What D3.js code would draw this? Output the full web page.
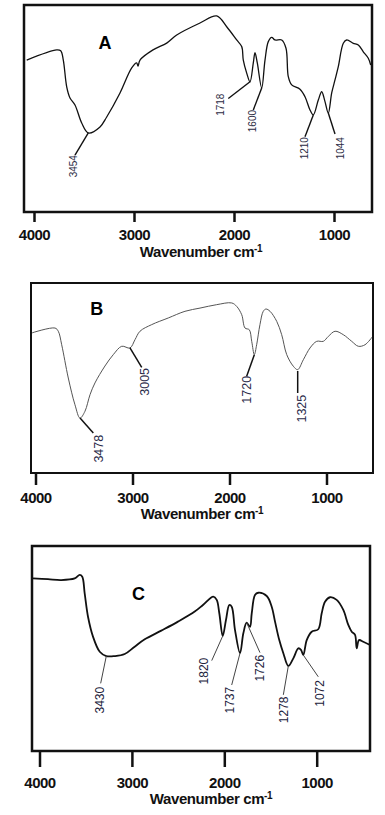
<!DOCTYPE html>
<html lang="en">
<head>
<meta charset="utf-8">
<title>FTIR spectra A, B, C</title>
<script src="https://d3js.org/d3.v7.min.js"></script>
<style>
  body { margin: 0; background: white; }
  svg { display: block; }
  .tick text { font-family: "Liberation Sans", Arial, sans-serif; font-weight: bold; letter-spacing: -0.5px; }
  .xtitle { font-family: "Liberation Sans", Arial, sans-serif; font-weight: bold; letter-spacing: -0.4px; }
  .plabel { font-family: "Liberation Sans", Arial, sans-serif; }
  .letter { font-family: "Liberation Sans", Arial, sans-serif; font-weight: bold; }
</style>
</head>
<body>
<svg id="chart" width="385" height="815"></svg>
<script>
// tick labels shared by the three panels
const ticks = [4000, 3000, 2000, 1000];

// ---- panel A ----
const waveA = [4073,3773,3733,3707,3673,3640,3590,3523,3457,3340,3273,3140,3023,2973,2960,2940,2810,2673,2573,2340,2173,2073,1973,1923,1907,1873,1840,1807,1790,1767,1723,1690,1657,1623,1590,1523,1480,1457,1423,1340,1290,1240,1207,1157,1123,1090,1057,1023,990,957,907,873,807,757,707,657,633];
const transA = [73.4,78.3,77.9,73.4,60.5,55.1,51.7,43.0,38.2,41.1,45.9,57.5,69.6,72.0,70.5,73.4,78.3,81.6,85.5,91.3,94.7,89.5,83.1,79.9,73.4,67.1,62.9,72.0,77.0,72.0,59.9,73.4,82.3,84.4,83.1,83.1,79.1,65.4,61.4,59.3,55.7,49.3,46.9,54.1,58.1,53.3,47.8,57.5,63.8,70.2,81.5,83.1,81.5,80.7,77.4,74.3,71.0];
const peaksA = ["3454", "1718", "1600", "1210", "1044"];
const anchorA = [[3457,38.2],[1840,62.9],[1723,59.9],[1207,46.9],[1057,47.8]];
const lineEndA = [[3590,27.5],[2057,54.8],[1807,49.3],[1290,36.4],[990,37.7]];
const textPosA = [[3610,27.5],[2133,57.2],[1820,49.3],[1300,36.2],[940,36.2]];

// ---- panel B ----
const waveB = [4039,3799,3765,3730,3662,3593,3541,3490,3438,3387,3284,3198,3111,3026,2974,2923,2802,2631,2459,2304,2132,1977,1926,1874,1840,1796,1771,1744,1720,1686,1652,1624,1582,1513,1462,1410,1342,1297,1239,1170,1101,1033,981,912,827,740,672,603,524];
const transB = [73.7,76.3,74.6,67.5,50.0,35.9,28.9,32.5,41.2,47.4,56.3,62.3,66.7,65.8,70.2,74.6,78.1,81.6,85.1,86.8,88.6,89.5,87.7,83.3,76.3,75.4,69.3,62.3,67.5,78.1,85.1,86.3,85.1,79.8,72.8,62.3,56.2,54.4,59.6,65.8,69.3,69.3,71.9,74.6,72.8,69.3,66.7,67.5,71.9];
const peaksB = ["3478", "3005", "1720", "1325"];
const anchorB = [[3541,28.9],[3026,65.8],[1744,62.3],[1297,53.7]];
const lineEndB = [[3404,21.0],[2905,55.6],[1823,50.9],[1297,42.1]];
const textPosB = [[3353,20.1],[2881,55.3],[1823,51.1],[1256,41.2]];

// ---- panel C ----
const waveC = [4070,3908,3764,3619,3565,3537,3511,3475,3421,3348,3277,3186,3078,2970,2861,2682,2501,2320,2231,2119,2082,2054,2017,1982,1946,1920,1884,1830,1794,1758,1722,1703,1668,1632,1541,1487,1451,1405,1361,1307,1253,1199,1170,1145,1108,1054,983,946,910,856,784,712,658,621,585,567,542,496,423];
const transC = [84.2,83.8,83.4,84.2,85.9,85.0,76.9,65.5,55.8,48.4,46.3,46.3,47.3,50.9,54.5,58.7,63.1,68.0,71.2,75.3,73.7,67.2,56.1,63.9,71.2,70.4,59.0,47.7,57.4,62.6,60.6,67.2,76.1,77.2,75.6,70.4,63.1,54.1,47.7,41.5,45.2,50.1,49.3,46.8,54.1,58.2,59.4,67.2,72.8,75.0,73.7,68.8,61.5,58.2,56.6,50.1,54.1,53.3,51.7];
const peaksC = ["3430", "1820", "1737", "1726", "1278", "1072"];
const anchorC = [[3277,46.3],[2017,56.1],[1830,47.7],[1758,62.6],[1307,41.5],[1145,46.8]];
const lineEndC = [[3338,33.0],[2136,44.1],[1920,32.2],[1614,48.0],[1361,27.4],[983,36.2]];
const textPosC = [[3349,31.3],[2228,45.5],[1946,31.3],[1614,46.9],[1361,26.6],[972,34.6]];

const panels = [
  { name: "A", wave: waveA, trans: transA, peaks: peaksA, anchor: anchorA, lineEnd: lineEndA, textPos: textPosA,
    box: {x0: 24, x1: 372, y0: 5, y1: 212}, xr: [34, 334], letterAt: [3290, 82.1],
    curve: {color: "#111", width: 1.3}, lead: {color: "#111", width: 1.4}, labelSize: 10, labelColor: "#2b2b44",
    tickSize: 10, tickPad: 7, titleX: 201, titleY: 257, frame: 2.5 },
  { name: "B", wave: waveB, trans: transB, peaks: peaksB, anchor: anchorB, lineEnd: lineEndB, textPos: textPosB,
    box: {x0: 31, x1: 373, y0: 283, y1: 473}, xr: [35.5, 326.5], letterAt: [3369, 86.8],
    curve: {color: "#555", width: 1}, lead: {color: "#111", width: 1.5}, labelSize: 12.5, labelColor: "#2b2b4a",
    tickSize: 12, tickPad: 7, titleX: 202, titleY: 519, frame: 2 },
  { name: "C", wave: waveC, trans: transC, peaks: peaksC, anchor: anchorC, lineEnd: lineEndC, textPos: textPosC,
    box: {x0: 32, x1: 370, y0: 546, y1: 751}, xr: [39.5, 316.7], letterAt: [2929, 76.6],
    curve: {color: "#111", width: 1.8}, lead: {color: "#444", width: 1}, labelSize: 12, labelColor: "#22223c",
    tickSize: 16, tickPad: 10, titleX: 211, titleY: 804, frame: 2.5 }
];

const svg = d3.select("#chart");

panels.forEach(function(p) {
  const g = svg.append("g");
  const x = d3.scaleLinear().domain([4000, 1000]).range(p.xr);
  const y = d3.scaleLinear().domain([0, 100]).range([p.box.y1, p.box.y0]);

  // clip so the trace stays inside the frame
  const clipId = "clip" + p.name;
  g.append("clipPath").attr("id", clipId).append("rect")
    .attr("x", p.box.x0).attr("y", p.box.y0)
    .attr("width", p.box.x1 - p.box.x0).attr("height", p.box.y1 - p.box.y0);

  const pts = p.wave.map((w, i) => [w, p.trans[i]]);
  const line = d3.line().x(d => x(d[0])).y(d => y(d[1])).curve(d3.curveCatmullRom.alpha(0.5));

  g.append("path")
    .datum(pts)
    .attr("clip-path", "url(#" + clipId + ")")
    .attr("d", line)
    .attr("fill", "none")
    .attr("stroke", p.curve.color)
    .attr("stroke-width", p.curve.width)
    .attr("stroke-linejoin", "round");

  // leader lines for the peak labels
  g.selectAll(".lead")
    .data(p.peaks)
    .join("line")
    .attr("x1", (d, i) => x(p.anchor[i][0]))
    .attr("y1", (d, i) => y(p.anchor[i][1]))
    .attr("x2", (d, i) => x(p.lineEnd[i][0]))
    .attr("y2", (d, i) => y(p.lineEnd[i][1]))
    .attr("stroke", p.lead.color)
    .attr("stroke-width", p.lead.width);

  // rotated peak labels (read bottom to top)
  g.selectAll(".plabel")
    .data(p.peaks)
    .join("text")
    .attr("class", "plabel")
    .attr("transform", (d, i) => "translate(" + x(p.textPos[i][0]) + "," + y(p.textPos[i][1]) + ") rotate(-90)")
    .attr("text-anchor", "end")
    .attr("dy", "0.36em")
    .attr("font-size", p.labelSize)
    .attr("fill", p.labelColor)
    .text(d => d);

  // panel letter
  g.append("text")
    .attr("class", "letter")
    .attr("x", x(p.letterAt[0]))
    .attr("y", y(p.letterAt[1]))
    .attr("dy", "0.36em")
    .attr("text-anchor", "middle")
    .attr("font-size", 18)
    .text(p.name);

  // frame
  g.append("rect")
    .attr("x", p.box.x0).attr("y", p.box.y0)
    .attr("width", p.box.x1 - p.box.x0).attr("height", p.box.y1 - p.box.y0)
    .attr("fill", "none")
    .attr("stroke", "#111")
    .attr("stroke-width", p.frame);

  // x axis
  const ax = g.append("g")
    .attr("transform", "translate(0," + p.box.y1 + ")")
    .call(d3.axisBottom(x).tickValues(ticks).tickFormat(d3.format("d"))
      .tickSize(p.tickSize).tickPadding(p.tickPad));
  ax.select(".domain").remove();
  ax.selectAll(".tick line").attr("stroke", "#111").attr("stroke-width", 2.5);
  ax.selectAll(".tick text").attr("fill", "#111").attr("font-size", 15).attr("font-family", null);

  const t = g.append("text")
    .attr("class", "xtitle")
    .attr("x", p.titleX)
    .attr("y", p.titleY)
    .attr("text-anchor", "middle")
    .attr("font-size", 15)
    .attr("fill", "#111");
  t.append("tspan").text("Wavenumber cm");
  t.append("tspan").attr("dy", -5).attr("font-size", 10).text("-1");
});
</script>
</body>
</html>
